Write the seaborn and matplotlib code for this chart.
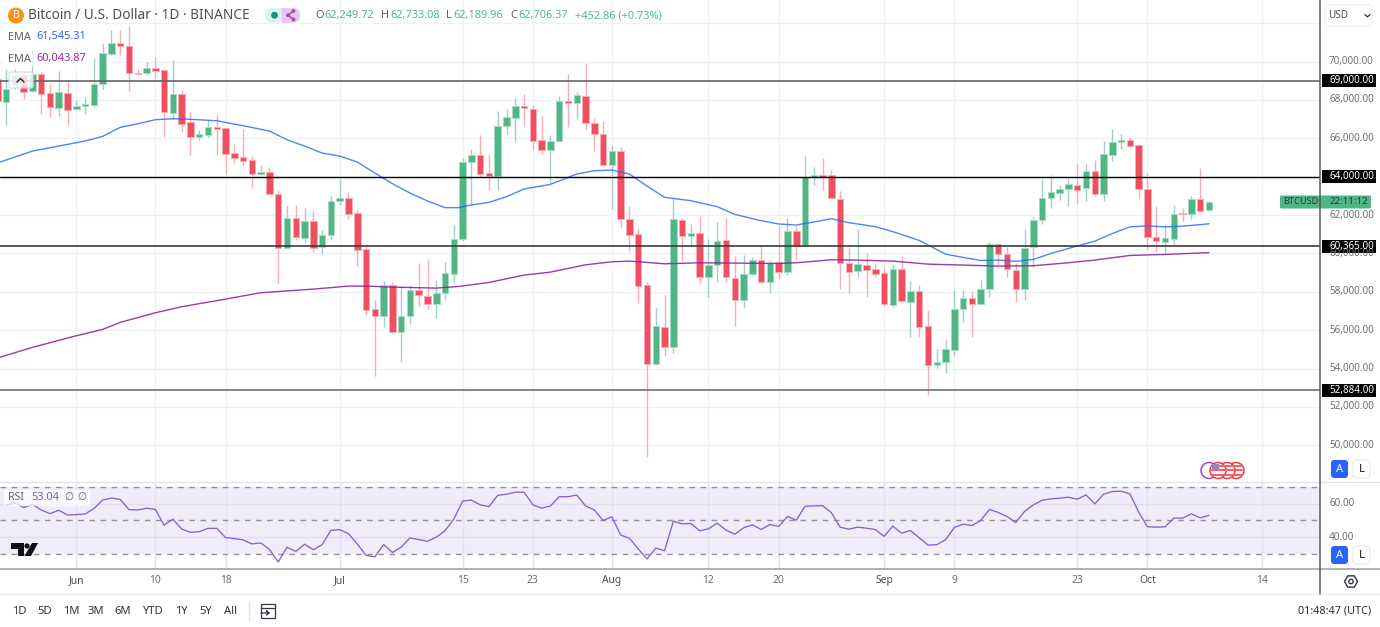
import numpy as np
import pandas as pd
import seaborn as sns
import matplotlib
matplotlib.use("Agg")
import matplotlib.pyplot as plt
from matplotlib.patches import Circle, FancyBboxPatch, Polygon, Rectangle

# Daily candles from 23 May to 8 Oct (day 0 = 1 Jun)
first_day = -9
opens = [69100, 67890, 68757, 69278, 68462, 69330, 68340, 67577, 68340,
         67507, 67663, 67715, 68826, 70372, 70979, 70788, 69399, 69382, 69660,
         69555, 67299, 68306, 66830, 66066, 66188, 66587, 66517, 65215, 65024,
         64868, 64139, 64226, 63115, 60300, 61830, 60789, 61674, 60350, 60945,
         62716, 62872, 62090, 60226, 57084, 56719, 58334, 55904, 56719, 58091,
         57778, 57362, 57952, 58924, 60771, 64746, 65146, 64191, 64035, 66639,
         67073, 67680, 67542, 65892, 65406, 65875, 67923, 67836, 68184, 66778,
         66222, 64625, 65319, 61778, 61014, 58334, 54237, 56163, 55140, 61743,
         60927, 61049, 58757, 59400, 60684, 58733, 57587, 58907, 59636, 58490,
         59531, 59045, 61153, 60372, 64000, 64087, 64069, 62854, 59520, 59087,
         59417, 59191, 58976, 57327, 59185, 57484, 58021, 56216, 54185, 54323,
         54966, 57094, 57682, 57353, 58167, 60469, 59967, 59153, 58167, 60330,
         61750, 62892, 63152, 63377, 63585, 63394, 64277, 63117, 65142, 65783,
         65887, 65662, 63377, 60850, 60607, 60763, 62130, 62044, 62823, 62249.72]
highs = [69700, 69625, 69625, 69500, 70580, 69450, 68844, 69486, 69052,
         67976, 68149, 70180, 70962, 71656, 71656, 71830, 69625, 69972, 70232,
         69625, 70059, 68531, 67368, 66413, 66969, 67281, 66517, 65719, 66500,
         65059, 64590, 64504, 63288, 62455, 62507, 62386, 62212, 61240, 62993,
         63861, 63202, 62247, 60469, 57570, 58560, 58490, 58299, 58334, 59514,
         59688, 58612, 59566, 61466, 65000, 65441, 66170, 65180, 67420, 67507,
         68097, 68305, 67732, 67142, 66170, 68218, 69347, 68427, 69902, 67038,
         66882, 65649, 65528, 62490, 61275, 58490, 57205, 57830, 62837, 61830,
         61535, 61952, 60736, 61639, 61830, 59861, 59914, 59792, 60382, 59653,
         61431, 61830, 61431, 65076, 64486, 64990, 64347, 63271, 60354, 61257,
         60007, 59486, 59306, 59445, 59861, 58577, 58334, 57050, 55000, 55539,
         58097, 58097, 58028, 58617, 60607, 60555, 60348, 59482, 61300, 61905,
         63896, 64069, 63550, 63948, 64710, 64640, 64848, 65835, 66493, 66233,
         66060, 65714, 64190, 62459, 61507, 62511, 62390, 62979, 64467, 62733.08]
lows = [66800, 66674, 68583, 68060, 68410, 67247, 67108, 67160, 66674,
        67490, 67247, 67629, 68583, 70320, 70320, 68462, 69278, 69278, 69156,
        66066, 67021, 66326, 65111, 65892, 66066, 65111, 64157, 64730, 64556,
        63410, 64070, 63115, 58463, 60250, 60719, 60598, 60060, 59990, 60685,
        62507, 61813, 59330, 56789, 53629, 56147, 55782, 54358, 56320, 57257,
        57101, 56650, 57570, 58438, 60650, 62576, 63965, 63306, 63306, 66205,
        65788, 66604, 65389, 65163, 63653, 65823, 66604, 67003, 66430, 65337,
        64573, 62333, 61327, 60129, 57431, 49411, 54185, 54671, 54827, 59625,
        60389, 58410, 57743, 58490, 58524, 56216, 57171, 58872, 58473, 57917,
        58646, 58872, 59729, 60372, 63549, 63306, 62872, 58150, 57917, 58792,
        57743, 58792, 57275, 57223, 57449, 55660, 55660, 52622, 54011, 53786,
        54654, 56453, 55639, 57717, 57717, 59395, 58755, 57491, 57578, 59274,
        61525, 62373, 62771, 62459, 62598, 62719, 62979, 62719, 64796, 65420,
        65540, 62823, 60209, 60053, 59950, 60486, 61698, 61819, 62183, 62189.96]
closes = [67950, 68549, 69278, 68410, 69365, 68306, 67629, 68392, 67472,
          67698, 67785, 68844, 70458, 70979, 70805, 69382, 69330, 69660, 69520,
          67351, 68288, 66743, 66066, 66205, 66587, 66483, 65163, 64990, 64833,
          64139, 64226, 63115, 60300, 61830, 60841, 61674, 60300, 60980, 62733,
          62872, 62073, 60164, 57049, 56719, 58334, 55904, 56737, 58091, 57813,
          57362, 57952, 58976, 60737, 64764, 65146, 64156, 64035, 66639, 67090,
          67663, 67594, 65875, 65406, 65857, 67923, 67836, 68253, 66812, 66239,
          64625, 65319, 61795, 60979, 58306, 54237, 56198, 55122, 61778, 60927,
          61049, 58757, 59400, 60632, 58757, 57553, 58924, 59653, 58490, 59514,
          59045, 61153, 60372, 64000, 64087, 64000, 62872, 59520, 59052, 59450,
          59157, 58931, 57379, 59185, 57501, 58021, 56164, 54185, 54323, 55000,
          57101, 57665, 57353, 58167, 60486, 59950, 59170, 58167, 60296, 61767,
          62910, 63221, 63377, 63602, 63290, 64277, 63117, 65160, 65800, 65887,
          65575, 63342, 60850, 60642, 60798, 62079, 62044, 62823, 62217, 62706.37]

ema_fast_days = [-9, -5, -1, 1, 3, 5, 7, 9, 11, 13, 16, 19, 22, 24, 26, 28, 30, 32, 34, 36,
                 38, 40, 42, 43.6, 44.5, 47, 49, 51, 54, 57, 59, 61, 63, 65, 67, 70, 73, 75,
                 78, 80, 82, 84, 86, 88, 91, 93, 96, 99, 101, 103, 105, 107, 109, 111, 113,
                 116, 118, 120, 122, 124, 126, 129]
ema_fast = [64712, 65337, 65684, 65858, 66100, 66570, 66760, 66969, 67020, 66990, 66917,
            66656, 66379, 65927, 65597, 65233, 65077, 64764, 64191, 63636, 63150, 62733,
            62386, 62386, 62490, 62663, 62958, 63358, 63600, 64139, 64312, 64347, 64139,
            63514, 62924, 62750, 62438, 62038, 61708, 61535, 61483, 61639, 61813, 61604,
            61396, 61136, 60680, 59967, 59794, 59638, 59655, 59586, 59690, 60001, 60261,
            60642, 61040, 61386, 61438, 61386, 61421, 61545.31]
ema_slow_days = [-9, -5, 0, 3, 5, 9, 12, 17, 21, 27, 31, 33, 36, 41, 43.6, 47, 51, 54, 58,
                 61, 63, 67, 71, 75, 80, 82, 86, 89, 93, 97, 101, 105, 109, 113, 116, 120,
                 124, 129]
ema_slow = [54549, 55105, 55712, 56042, 56407, 56910, 57223, 57622, 57952, 58143, 58299,
            58299, 58247, 58195, 58282, 58490, 58872, 59028, 59410, 59566, 59601, 59462,
            59514, 59497, 59480, 59514, 59671, 59653, 59601, 59445, 59395, 59343, 59360,
            59517, 59655, 59897, 59949, 60043.87]

# RSI, one value a day from day -8
rsi = [59, 60.6, 57.7, 59.6, 56.3, 54.1, 56.1, 53.3, 53.5, 53.9, 57.1, 62.2, 63.4, 62.6,
       56.5, 56.3, 57.3, 56.7, 47.2, 50.8, 44.9, 42.9, 43.3, 45.3, 45.3, 39.8, 39.2, 38.4,
       36, 36.6, 32.7, 25.2, 34, 31.5, 35.8, 32.5, 35.6, 44.1, 44.5, 42.1, 36, 29.1, 28.3,
       35.6, 30.9, 34, 39.6, 38.6, 37.6, 40, 43.9, 50.8, 61.6, 62.2, 59.3, 58.3, 65, 65.7,
       66.9, 66.9, 59.4, 57.3, 58.7, 64.2, 64.2, 65.2, 58.7, 56.3, 50, 52.2, 41.3, 39.4, 33,
       27, 33.5, 31.9, 49.6, 48, 48.2, 43.8, 45, 48.4, 44.2, 41.8, 45.6, 47.4, 44.6, 47.6,
       46.4, 52.4, 50.2, 58.5, 58.7, 58.9, 54.6, 46, 44.8, 46, 45.4, 44.6, 40.5, 46.6, 42.4,
       44, 39.7, 35.3, 35.5, 38.5, 45.8, 47.8, 47, 50, 56.6, 54.8, 52.4, 48.8, 55.4, 59.3,
       62.1, 62.9, 63.3, 63.9, 62.7, 65.3, 59.9, 65.7, 67.3, 67.5, 65.9, 55, 46.2, 46, 46.2,
       51.4, 51.4, 54, 51.6, 53.04]
rsi_first_day = -8

level_prices = [69000, 64000, 60365, 52884]
level_labels = ["69,000.00", "64,000.00", "60,365.00", "52,884.00"]
level_colors = ["#666666", "#000000", "#3c3c3c", "#707070"]
price_ticks = [50000, 52000, 54000, 56000, 58000, 60000, 62000, 64000, 66000, 68000, 70000, 72000]
date_ticks = [0, 9, 17, 30, 44, 52, 61, 72, 80, 92, 100, 114, 122, 135]
date_labels = ["Jun", "10", "18", "Jul", "15", "23", "Aug", "12", "20", "Sep", "9", "23", "Oct", "14"]
month_labels = ["Jun", "Jul", "Aug", "Sep", "Oct"]
range_labels = ["1D", "5D", "1M", "3M", "6M", "YTD", "1Y", "5Y", "All"]
range_x = [19, 45, 71, 96, 123, 152, 181, 206, 231]

GREEN = "#50b685"
RED = "#ef4f60"
GRID = "#eef2f6"
TEXT = "#5d606b"

sns.set_theme(style="white")
plt.rcParams["font.family"] = ["Noto Sans", "DejaVu Sans"]

W, H = 1380, 627
fig = plt.figure(figsize=(W / 100, H / 100), dpi=100)
fig.patch.set_facecolor("white")
ax = fig.add_axes([0, 1 - 482 / H, 1320 / W, 482 / H])
ax_rsi = fig.add_axes([0, 1 - 569 / H, 1320 / W, 87 / H])
ov = fig.add_axes([0, 0, 1, 1], zorder=10)
ov.set_xlim(0, W)
ov.set_ylim(H, 0)
ov.axis("off")
ov.patch.set_alpha(0)

x_lim = (-8.69, 141.65)
for a in (ax, ax_rsi):
    a.set_xlim(*x_lim)
    a.set_xticks([])
    a.set_yticks([])
    sns.despine(ax=a, left=True, bottom=True, top=True, right=True)
    for d in date_ticks:
        a.axvline(d, color=GRID, lw=1, zorder=0)

# price pane
ax.set_ylim(48091, 73208)
for p in price_ticks:
    ax.axhline(p, color=GRID, lw=1, zorder=0)

days = np.arange(first_day, first_day + len(opens))
candles = pd.DataFrame({"day": days, "o": opens, "h": highs, "l": lows, "c": closes})
candles["up"] = candles["c"] >= candles["o"]
up = candles[candles["up"]]
down = candles[~candles["up"]]
ax.vlines(up["day"], up["l"], up["h"], color="#a3cdc9", lw=1, zorder=2)
ax.vlines(down["day"], down["l"], down["h"], color="#f6aeb6", lw=1, zorder=2)
ax.bar(up["day"], up["c"] - up["o"], bottom=up["o"], width=0.74, color=GREEN,
       edgecolor="#a8dcc4", lw=0.7, zorder=3)
ax.bar(down["day"], down["o"] - down["c"], bottom=down["c"], width=0.74, color=RED,
       edgecolor="#f8aeb6", lw=0.7, zorder=3)

sns.lineplot(x=ema_fast_days, y=ema_fast, ax=ax, color="#2962ff", lw=1, alpha=0.8, zorder=4)
sns.lineplot(x=ema_slow_days, y=ema_slow, ax=ax, color="#8e24aa", lw=1, alpha=0.9, zorder=4)
ax.set_xlim(*x_lim)
ax.set_ylim(48091, 73208)
for p, col in zip(level_prices, level_colors):
    ax.axhline(p, color=col, lw=1.2 if col != "#000000" else 1, zorder=5)

# rsi pane
ax_rsi.set_ylim(21, 73)
ax_rsi.axhspan(30, 70, color="#f0ecf9", lw=0, zorder=0.5)
for v in [40, 60]:
    ax_rsi.axhline(v, color="#dfe0ee", lw=1, zorder=1)
for a_x in date_ticks:
    ax_rsi.axvline(a_x, color="#e2e3f0", lw=1, zorder=1)
for v in [30, 50, 70]:
    ax_rsi.axhline(v, color="#8f9099", lw=1, ls=(0, (4, 4)), zorder=2)
rsi_days = np.arange(rsi_first_day, rsi_first_day + len(rsi))
sns.lineplot(x=rsi_days, y=rsi, ax=ax_rsi, color="#8662cb", lw=0.95, zorder=3)
ax_rsi.set_xlim(*x_lim)
ax_rsi.set_ylim(21, 73)
ax_rsi.set_xlabel("")
ax_rsi.set_ylabel("")
ax.set_xlabel("")
ax.set_ylabel("")


# frame lines, in pixels
ov.plot([0, W], [482, 482], color="#e2e4ea", lw=1)
ov.plot([0, W], [569, 569], color="#a8abb3", lw=1.3)
ov.plot([0, W], [594, 594], color="#eceef2", lw=1)
ov.plot([1320, 1320], [0, 594], color="#555860", lw=1.1)


def px_text(x, y, s, size=7.9, color=TEXT, ha="left", **kw):
    return ov.text(x, y, s, fontsize=size, color=color, ha=ha, va="center", **kw)


def price_y(p):
    return 176.7 + (64000 - p) * 0.01919


# right axis labels, 64,000 sits under its level tag
for p in price_ticks[:-1]:
    if p != 64000:
        px_text(1329, price_y(p), f"{p:,.0f}.00", size=7.1, color="#6a6d78")
for p, s in zip(level_prices, level_labels):
    ov.add_patch(Rectangle((1322, price_y(p) - 6.5), 54, 13, color="black", lw=0))
    px_text(1329, price_y(p), s, size=7.1, color="white")
for lab, y in [("60.00", 504), ("40.00", 538)]:
    px_text(1329, y, lab, size=7.1, color="#6a6d78")

# last price tag
ov.add_patch(FancyBboxPatch((1280, 195.5), 91, 13, boxstyle="round,pad=0,rounding_size=1.5",
                            color=GREEN, lw=0))
px_text(1283, 202, "BTCUSD", size=6.6, color="#2a3a34")
px_text(1368, 202, "22:11:12", size=7, color="#2a3a34", ha="right")

# date labels
for d, s in zip(date_ticks, date_labels):
    bold = s in month_labels
    px_text(76.3 + 8.78 * d, 580.5, s, size=7.4, ha="center",
            color="#4a4d57" if bold else "#6a6d78", fontweight="bold" if bold else "normal")

# header
ov.add_patch(Circle((16, 15.5), 8, color="#f7931a", lw=0))
px_text(16, 15.5, "B", size=7.5, color="white", ha="center", fontweight="bold")
px_text(28, 15.5, "Bitcoin / U.S. Dollar · 1D · BINANCE", size=9.8, color="#4c4e57")
ov.add_patch(FancyBboxPatch((265, 8), 35, 14.5, boxstyle="round,pad=0,rounding_size=7", color="#dff1ee", lw=0))
ov.add_patch(FancyBboxPatch((282, 8), 18, 14.5, boxstyle="round,pad=0,rounding_size=7", color="#e6c8ea", lw=0))
ov.add_patch(Rectangle((282, 8), 8, 14.5, color="#e6c8ea", lw=0))
ov.add_patch(Circle((274.5, 15.2), 3.4, color="#089981", lw=0))
ov.plot([293.5, 288, 293.5], [11, 15.2, 19.5], color="#ab47bc", lw=1.1)
for cx, cy in [(293.5, 11), (288, 15.2), (293.5, 19.5)]:
    ov.add_patch(Circle((cx, cy), 1.9, color="#ab47bc", lw=0))

ohlc = [(315, "O", 324, "62,249.72"), (381, "H", 390, "62,733.08"),
        (446, "L", 453, "62,189.96"), (510, "C", 518, "62,706.37")]
for lx, lab, vx, val in ohlc:
    px_text(lx, 15.5, lab, color="#5d606b")
    px_text(vx, 15.5, val, color="#4fb887")
px_text(575, 15.5, "+452.86 (+0.73%)", color="#4fb887")

for y, val, col in [(37, "61,545.31", "#2962ff"), (59, "60,043.87", "#9c27b0")]:
    ov.add_patch(Rectangle((4, y - 8), 90, 16, color="white", alpha=0.7, lw=0))
    px_text(8, y, "EMA", color="#5d606b")
    px_text(36, y, val, color=col)

ov.add_patch(FancyBboxPatch((9, 72), 24, 16, boxstyle="round,pad=0,rounding_size=2",
                            fc=(1, 1, 1, 0.8), ec="#d8dae0", lw=0.8))
ov.plot([17, 20.5, 24], [82, 78.5, 82], color="#222222", lw=1)

# USD button
ov.add_patch(FancyBboxPatch((1325, 5), 47, 21, boxstyle="round,pad=0,rounding_size=3",
                            fc="white", ec="#eceef2", lw=0.8))
px_text(1328, 15.5, "USD", size=7.2, color="#4c4e57")
ov.plot([1365, 1367.5, 1370], [14.5, 17, 14.5], color="#333333", lw=0.9)

# A / L buttons
for y in [460, 546]:
    ov.add_patch(FancyBboxPatch((1331, y), 17, 18, boxstyle="round,pad=0,rounding_size=3",
                                fc="#2962ff", ec="none"))
    px_text(1339.5, y + 9, "A", size=8, color="white", ha="center", fontweight="bold")
    ov.add_patch(FancyBboxPatch((1353, y), 17, 18, boxstyle="round,pad=0,rounding_size=3",
                                fc="white", ec="#e6e8ee", lw=0.8))
    px_text(1361.5, y + 9, "L", size=8, color="#131722", ha="center")

# settings hexagon
hex_t = np.deg2rad(np.arange(0, 360, 60))
ov.add_patch(Polygon(np.c_[1351 + 6.5 * np.cos(hex_t), 581.5 + 6.5 * np.sin(hex_t)],
                     fc="white", ec="#333640", lw=1))
ov.add_patch(Circle((1351, 581.5), 2.2, fc="white", ec="#333640", lw=1))

# event markers
ov.add_patch(Circle((1209, 470.5), 8, fc="white", ec="#ab47bc", lw=1.1))
for cx in [1236, 1227, 1218]:
    ov.add_patch(Circle((cx, 470.5), 8, fc="white", ec="#f23645", lw=1.1))
    for sy in [466, 470, 474.5]:
        ov.plot([cx - 6, cx + 6], [sy, sy], color="#f4606d", lw=1.5)
ov.add_patch(Rectangle((1211.5, 464), 7, 5.5, color="#5b9bf0", lw=0))

# TradingView mark
ov.add_patch(Polygon([(11, 543), (24, 543), (24, 556), (17.5, 556), (17.5, 549), (11, 549)],
                     color="#111111", lw=0))
ov.add_patch(Circle((27, 546), 2.6, color="#111111", lw=0))
ov.add_patch(Polygon([(32, 543), (38, 543), (31, 556), (24.5, 556)], color="#111111", lw=0))

# RSI label
ov.add_patch(Rectangle((4, 490), 86, 16, color="white", alpha=0.7, lw=0))
px_text(8, 498, "RSI", size=7.6, color="#5d606b")
px_text(31, 498, "53.04", size=7.9, color="#7e57c2")
px_text(64, 498, "∅", size=7.6, color="#5d606b")
px_text(77, 498, "∅", size=7.6, color="#5d606b")

# bottom bar
for x, s in zip(range_x, range_labels):
    px_text(x, 611, s, size=8, color="#2e3038", ha="center")
ov.plot([249, 249], [601, 621], color="#e2e4ea", lw=1)
ov.add_patch(Rectangle((261, 604), 14, 14, fc="none", ec="#333640", lw=0.9))
ov.plot([261, 275], [607.5, 607.5], color="#333640", lw=0.9)
ov.plot([261, 269, 266.5, 269, 266.5], [613, 613, 611, 613, 615], color="#333640", lw=0.9)
px_text(1371, 611, "01:48:47 (UTC)", size=7.8, color="#2e3038", ha="right")

fig.savefig("out.png", dpi=100)
